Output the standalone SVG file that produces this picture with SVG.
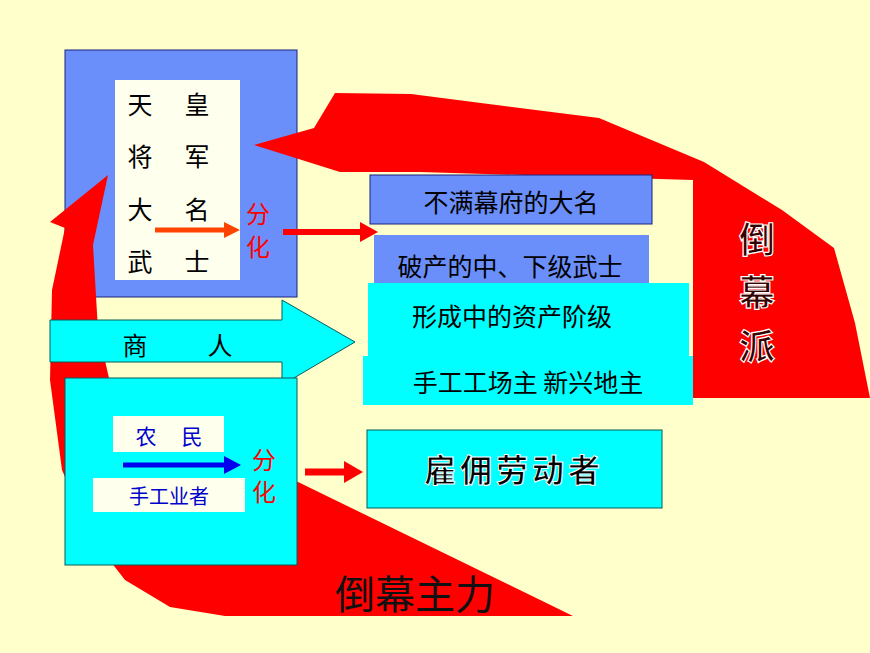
<svg xmlns="http://www.w3.org/2000/svg" width="870" height="653" viewBox="0 0 870 653">
<style>
text{font-family:"Noto Sans CJK SC","Liberation Sans",sans-serif;text-anchor:middle}
.blue{fill:#6b8ffa;stroke:#1a237e;stroke-width:1}
.cyan{fill:#00ffff;stroke:#0a5a5a;stroke-width:1}
.c{fill:#000;font-size:25px}
.r{fill:#ff0000;font-size:24px}
</style>
<rect width="870" height="653" fill="#ffffcc"/>
<g id="top"><rect class="blue" x="65" y="50" width="232" height="247"/>
<rect x="115" y="80" width="125" height="200" fill="#ffffee"/>
<text class="c" x="140" y="114">天</text><text class="c" x="197" y="114">皇</text>
<text class="c" x="140" y="166">将</text><text class="c" x="197" y="166">军</text>
<text class="c" x="140" y="219">大</text><text class="c" x="197" y="219">名</text>
<text class="c" x="140" y="271">武</text><text class="c" x="197" y="271">士</text>
<text class="r" x="258" y="223">分</text><text class="r" x="258" y="256">化</text></g>
<g id="connectors">
<path d="M340,172 L420,172 L693,180 L693,398 L870,398 L855,323 L834,248 L782,210 L704,162 L599,118 L411,94 L335,93 L314,128 L254,145 Z" fill="#ff0000"/>
<path d="M573,616 L296,481 L130,470 L98,330 L93,245 L108,175 L50,222 L65,228 L52,290 L50,380 L62,470 L90,535 L125,580 L170,607 L225,616 Z" fill="#ff0000"/>
<path d="M155,230 H226" stroke="#ff4400" stroke-width="5"/><path d="M224,222 L240,230 L224,238 Z" fill="#ff4400"/>
<path d="M283,232 H362" stroke="#ff0000" stroke-width="6"/><path d="M360,222 L378,232 L360,242 Z" fill="#ff0000"/>
</g>
<g id="merchant"><path class="cyan" d="M50,320 H282 V300 L355,342 L282,385 V362 H50 Z"/>
<text class="c" x="135" y="355">商</text><text class="c" x="220" y="355">人</text></g>
<g id="bottom"><rect class="cyan" x="65" y="378" width="232" height="187"/>
<rect x="113" y="416" width="111" height="36" fill="#ffffee"/>
<text x="146" y="444" fill="#0000cc" font-size="21">农</text><text x="192" y="444" fill="#0000cc" font-size="21">民</text>
<rect x="93" y="478" width="152" height="34" fill="#ffffee"/>
<text x="169" y="504" fill="#0000cc" font-size="20">手工业者</text>
<text class="r" x="264" y="469">分</text><text class="r" x="264" y="501">化</text>
<path d="M123,465 H226" stroke="#0000ee" stroke-width="5"/><path d="M224,456 L241,465 L224,474 Z" fill="#0000ee"/>
<path d="M305,472 H346" stroke="#ff0000" stroke-width="7"/><path d="M344,461 L363,472 L344,483 Z" fill="#ff0000"/></g>
<g id="n1"><rect class="blue" x="370" y="175" width="282" height="49"/><text x="511" y="212" font-size="25">不满幕府的大名</text></g>
<g id="n2"><rect x="374" y="235" width="275" height="55" fill="#6b8ffa"/><text x="510" y="276" font-size="25">破产的中、下级武士</text></g>
<g id="n3"><rect x="368" y="283" width="321" height="76" fill="#00ffff"/><rect x="363" y="356" width="330" height="49" fill="#00ffff"/>
<text x="512" y="326" font-size="25">形成中的资产阶级</text><text x="528" y="392" font-size="25">手工工场主  新兴地主</text></g>
<g id="n4"><rect class="cyan" x="367" y="430" width="295" height="78"/>
<text x="514" y="482" font-size="32" font-weight="bold" stroke="#fff" stroke-width="1" fill="#000" letter-spacing="4">雇佣劳动者</text></g>
<g id="labels">
<text x="757" y="253" font-size="36" font-weight="bold" fill="#330000" stroke="#fff" stroke-width="1.2">倒</text>
<text x="757" y="306" font-size="36" font-weight="bold" fill="#330000" stroke="#fff" stroke-width="1.2">幕</text>
<text x="757" y="360" font-size="36" font-weight="bold" fill="#330000" stroke="#fff" stroke-width="1.2">派</text>
<text x="415" y="609" font-size="40" fill="#111">倒幕主力</text></g>
</svg>
